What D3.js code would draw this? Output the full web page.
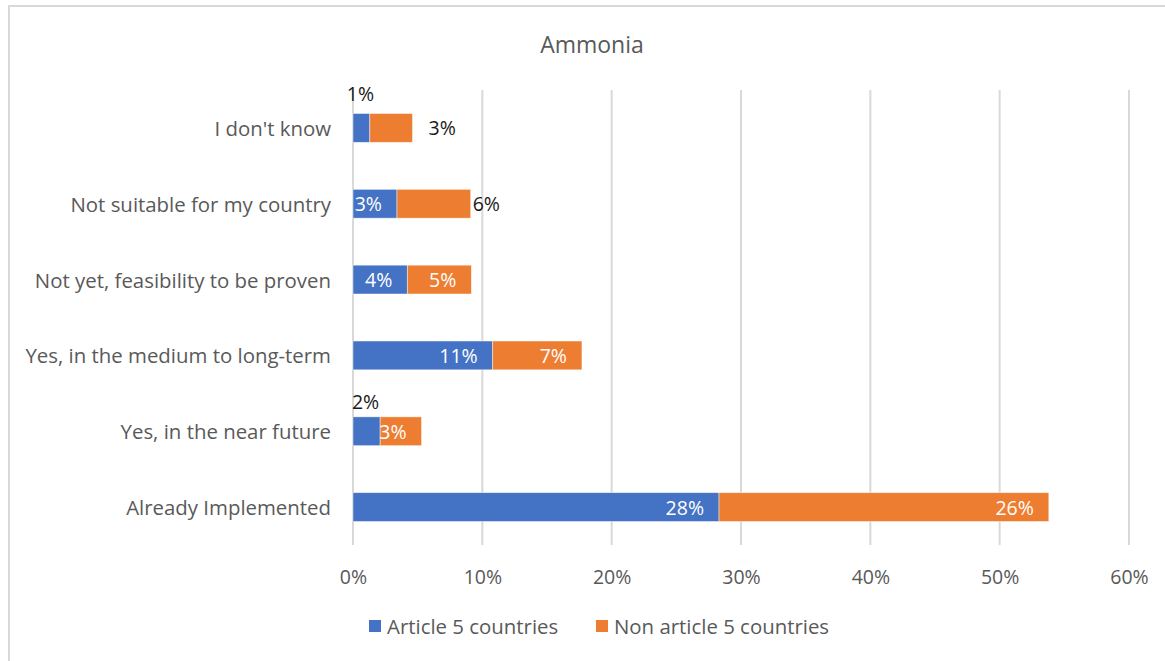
<!DOCTYPE html>
<html>
<head>
<meta charset="utf-8">
<script src="https://cdn.jsdelivr.net/npm/d3@7"></script>
<style>
  html, body { margin: 0; padding: 0; background: #fff; }
  svg { display: block; font-family: "Open Sans", "Noto Sans", sans-serif; }
</style>
</head>
<body>
<svg id="chart" width="1165" height="661"></svg>
<script>
// Survey responses on ammonia adoption, share of respondents (%)
const categories = [
  "I don't know",
  "Not suitable for my country",
  "Not yet, feasibility to be proven",
  "Yes, in the medium to long-term",
  "Yes, in the near future",
  "Already Implemented"
];
const seriesNames = ["Article 5 countries", "Non article 5 countries"];
const article5 = [1.3, 3.4, 4.2, 10.8, 2.1, 28.3];
const nonArticle5 = [3.3, 5.7, 4.95, 6.9, 3.2, 25.5];
const tickValues = [0, 10, 20, 30, 40, 50, 60];
const title = "Ammonia";

const colors = ["#4472C4", "#ED7D31"];
const FONT = "20.4px";
const NUM_FONT = "19.5px";

// Data-label placement: default is inside the segment end; a few are moved outside
const labelPlacement = {
  "0-0": { mode: "above", dy: -20 },
  "0-1": { mode: "outside", dx: 16 },
  "1-1": { mode: "outside", dx: 2 },
  "4-0": { mode: "above", dy: -15 }
};

const svg = d3.select("#chart");
const W = 1165, H = 661;

// outer chart frame
svg.append("rect")
  .attr("x", 9).attr("y", 6)
  .attr("width", W + 20).attr("height", H + 20)
  .attr("fill", "#fff")
  .attr("stroke", "#d9d9d9")
  .attr("stroke-width", 2);

const plot = { left: 353, right: 1129, top: 90, bottom: 545 };

const x = d3.scaleLinear().domain([0, 60]).range([plot.left, plot.right]);
const y = d3.scaleBand().domain(categories)
  .range([plot.top, plot.bottom])
  .paddingInner(0.62).paddingOuter(0.31);

// title
svg.append("text")
  .attr("x", 592).attr("y", 44)
  .attr("text-anchor", "middle")
  .attr("dominant-baseline", "central")
  .attr("fill", "#595959")
  .style("font-size", "23px")
  .text(title);

// vertical gridlines
svg.append("g").selectAll("line")
  .data(tickValues)
  .join("line")
  .attr("x1", d => x(d)).attr("x2", d => x(d))
  .attr("y1", plot.top).attr("y2", plot.bottom)
  .attr("stroke", "#d9d9d9")
  .attr("stroke-width", 2);

// x axis tick labels
const xAxis = d3.axisBottom(x).tickValues(tickValues)
  .tickFormat(d => d + "%").tickSize(0).tickPadding(0);
const gx = svg.append("g")
  .attr("transform", `translate(0,${plot.bottom})`)
  .call(xAxis);
gx.select(".domain").remove();
gx.selectAll("text")
  .attr("y", 31).attr("dy", null)
  .attr("dominant-baseline", "central")
  .attr("fill", "#595959")
  .style("font-size", NUM_FONT)
  .style("font-family", "'Open Sans', 'Noto Sans', sans-serif");

// y axis category labels
const yAxis = d3.axisLeft(y).tickSize(0).tickPadding(22);
const gy = svg.append("g")
  .attr("transform", `translate(${plot.left},0)`)
  .call(yAxis);
gy.select(".domain").remove();
gy.selectAll("text")
  .attr("dy", null)
  .attr("dominant-baseline", "central")
  .attr("fill", "#595959")
  .style("font-size", FONT)
  .style("font-family", "'Open Sans', 'Noto Sans', sans-serif");

// stacked series
const rows = categories.map((c, i) => ({ cat: c, s0: article5[i], s1: nonArticle5[i] }));
const stack = d3.stack().keys(["s0", "s1"])(rows);

const layers = svg.append("g").selectAll("g")
  .data(stack)
  .join("g")
  .attr("fill", (d, i) => colors[i]);

layers.selectAll("rect")
  .data(d => d)
  .join("rect")
  .attr("x", d => x(d[0]))
  .attr("y", d => y(d.data.cat))
  .attr("width", d => x(d[1]) - x(d[0]))
  .attr("height", y.bandwidth())
  .attr("stroke", "#fff")
  .attr("stroke-width", 0.75)
  .attr("stroke-opacity", 0.6);

// data labels, each showing its own series value
const labelData = [];
stack.forEach((layer, si) => {
  const vals = si === 0 ? article5 : nonArticle5;
  layer.forEach((d, ci) => {
    labelData.push({ si, ci, v0: d[0], v1: d[1], value: vals[ci], cat: d.data.cat });
  });
});

svg.append("g").selectAll("text")
  .data(labelData)
  .join("text")
  .each(function (d) {
    const p = labelPlacement[d.ci + "-" + d.si] || { mode: "inside" };
    const t = d3.select(this);
    const cy = y(d.cat) + y.bandwidth() / 2;
    if (p.mode === "inside") {
      t.attr("x", x(d.v1) - 15).attr("y", cy)
        .attr("text-anchor", "end").attr("fill", "#fff");
    } else if (p.mode === "outside") {
      t.attr("x", x(d.v1) + p.dx).attr("y", cy)
        .attr("text-anchor", "start").attr("fill", "#1a1a1a");
    } else {
      t.attr("x", (x(d.v0) + x(d.v1)) / 2 - 1).attr("y", y(d.cat) + p.dy)
        .attr("text-anchor", "middle").attr("fill", "#1a1a1a");
    }
  })
  .attr("dominant-baseline", "central")
  .style("font-size", NUM_FONT)
  .text(d => Math.round(d.value) + "%");

// legend
const legend = svg.append("g");
const legendItems = [
  { name: seriesNames[0], color: colors[0], x: 369 },
  { name: seriesNames[1], color: colors[1], x: 596 }
];
legendItems.forEach(it => {
  legend.append("rect")
    .attr("x", it.x).attr("y", 620)
    .attr("width", 12).attr("height", 12)
    .attr("fill", it.color);
  legend.append("text")
    .attr("x", it.x + 18).attr("y", 626)
    .attr("dominant-baseline", "central")
    .attr("fill", "#595959")
    .style("font-size", FONT)
    .text(it.name);
});
</script>
</body>
</html>
